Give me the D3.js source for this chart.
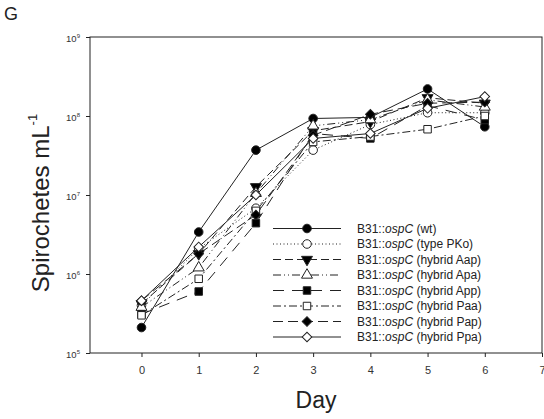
<!DOCTYPE html>
<html><head><meta charset="utf-8">
<script src="https://cdn.jsdelivr.net/npm/d3@7"></script>
<style>body{margin:0;background:#fff}svg{display:block}text{font-family:"Liberation Sans",Arial,sans-serif}</style>
</head><body><svg id="c" width="544" height="419"></svg>
<script>
const days = [0,1,2,3,4,5,6];
const xTicks = [0,1,2,3,4,5,6,7];
const yTicks = [1e5,1e6,1e7,1e8,1e9];
const yTickExp = ["5","6","7","8","9"];
const seriesNames = ["(wt)","(type PKo)","(hybrid Aap)","(hybrid Apa)","(hybrid App)","(hybrid Paa)","(hybrid Pap)","(hybrid Ppa)"];
const wt  = [2.1e5, 3.4e6, 3.7e7, 9.3e7, 9.6e7, 2.2e8, 7.3e7];
const PKo = [4.0e5, 2.1e6, 6.8e6, 3.7e7, 7.8e7, 1.1e8, 1.1e8];
const Aap = [4.2e5, 1.8e6, 1.27e7, 6.5e7, 8.5e7, 1.7e8, 1.45e8];
const Apa = [3.8e5, 1.2e6, 1.05e7, 7.5e7, 9.0e7, 1.6e8, 1.3e8];
const App = [3.1e5, 6.0e5, 4.4e6, 6.0e7, 5.2e7, 1.35e8, 8.9e7];
const Paa = [3.0e5, 8.7e5, 6.3e6, 4.7e7, 5.5e7, 6.8e7, 1.0e8];
const Pap = [4.6e5, 1.8e6, 5.6e6, 5.7e7, 1.05e8, 1.45e8, 1.5e8];
const Ppa = [4.6e5, 2.2e6, 1.0e7, 5.2e7, 6.0e7, 1.25e8, 1.76e8];
const seriesValues = [wt, PKo, Aap, Apa, App, Paa, Pap, Ppa];

const styles = [
  {dash:null, sym:d3.symbolCircle, size:58, fill:"#000", rot:0},
  {dash:"1,2.5", sym:d3.symbolCircle, size:58, fill:"#fff", rot:0},
  {dash:"8,4", sym:d3.symbolTriangle, size:52, fill:"#000", rot:180},
  {dash:"8,3,1,3,1,3", sym:d3.symbolTriangle, size:52, fill:"#fff", rot:0},
  {dash:"11,8", sym:d3.symbolSquare, size:56, fill:"#000", rot:0},
  {dash:"8,3,2,3", sym:d3.symbolSquare, size:56, fill:"#fff", rot:0},
  {dash:"10,5", sym:d3.symbolSquare, size:46, fill:"#000", rot:45},
  {dash:null, sym:d3.symbolSquare, size:46, fill:"#fff", rot:45}
];

const svg = d3.select("#c");
const L=90,R=542,T=37,B=353;
const x = d3.scaleLinear().domain([-0.9,7]).range([L,R]);
const y = d3.scaleLog().domain([1e5,1e9]).range([B,T]);
const ink="#222";

svg.append("rect").attr("x",L).attr("y",T).attr("width",R-L).attr("height",B-T)
  .attr("fill","none").attr("stroke",ink).attr("stroke-width",1);

const xa = svg.append("g").attr("transform",`translate(0,${B})`)
  .call(d3.axisBottom(x).tickValues(xTicks).tickSize(4).tickFormat(d3.format("d")));
xa.select(".domain").remove();
xa.selectAll("line").attr("stroke",ink);
xa.selectAll("text").attr("font-size",11).attr("fill","#333").attr("dy","1.25em");

const ya = svg.append("g").attr("transform",`translate(${L},0)`)
  .call(d3.axisLeft(y).tickValues(yTicks).tickSize(4).tickFormat(()=>""));
ya.select(".domain").remove();
ya.selectAll("line").attr("stroke",ink);
ya.selectAll(".tick").each(function(d,i){
  const t = d3.select(this).append("text").attr("x",-10).attr("dy","0.45em")
    .attr("text-anchor","end").attr("fill","#333").attr("font-size",9.5);
  t.append("tspan").text("10");
  t.append("tspan").text(yTickExp[i]).attr("font-size",6).attr("dy","-0.7em");
});

const line = d3.line().x((d,i)=>x(days[i])).y(d=>y(d));
seriesValues.forEach((vals,k)=>{
  svg.append("path").attr("d",line(vals)).attr("fill","none")
    .attr("stroke",ink).attr("stroke-width",1)
    .attr("stroke-dasharray",styles[k].dash);
});
seriesValues.forEach((vals,k)=>{
  const s=styles[k];
  svg.append("g").selectAll("path").data(vals).join("path")
    .attr("d",d3.symbol().type(s.sym).size(s.size))
    .attr("transform",(d,i)=>`translate(${x(days[i])},${y(d)}) rotate(${s.rot})`)
    .attr("fill",s.fill).attr("stroke",ink).attr("stroke-width",1);
});

const lg = svg.append("g");
seriesNames.forEach((n,k)=>{
  const s=styles[k]; const yy = 228.5 + k*15.5;
  lg.append("line").attr("x1",273).attr("x2",341).attr("y1",yy).attr("y2",yy)
    .attr("stroke",ink).attr("stroke-width",1).attr("stroke-dasharray",s.dash);
  lg.append("path").attr("d",d3.symbol().type(s.sym).size(s.size))
    .attr("transform",`translate(307,${yy}) rotate(${s.rot})`)
    .attr("fill",s.fill).attr("stroke",ink).attr("stroke-width",1);
  const t = lg.append("text").attr("x",357).attr("y",yy).attr("dy","0.36em")
    .attr("font-size",12).attr("fill","#222");
  t.append("tspan").text("B31::");
  t.append("tspan").text("ospC").attr("font-style","italic");
  t.append("tspan").text(" "+n);
});

svg.append("text").attr("x",(L+R)/2).attr("y",408).attr("text-anchor","middle")
  .attr("font-size",23).attr("fill","#222").text("Day");
const yt = svg.append("text").attr("transform","translate(49,203) rotate(-90)")
  .attr("text-anchor","middle").attr("font-size",24).attr("fill","#222");
yt.append("tspan").text("Spirochetes mL");
yt.append("tspan").text("-1").attr("font-size",13).attr("dy","-0.9em");
svg.append("text").attr("x",4).attr("y",20).attr("font-size",18).attr("fill","#222").text("G");
</script></body></html>
